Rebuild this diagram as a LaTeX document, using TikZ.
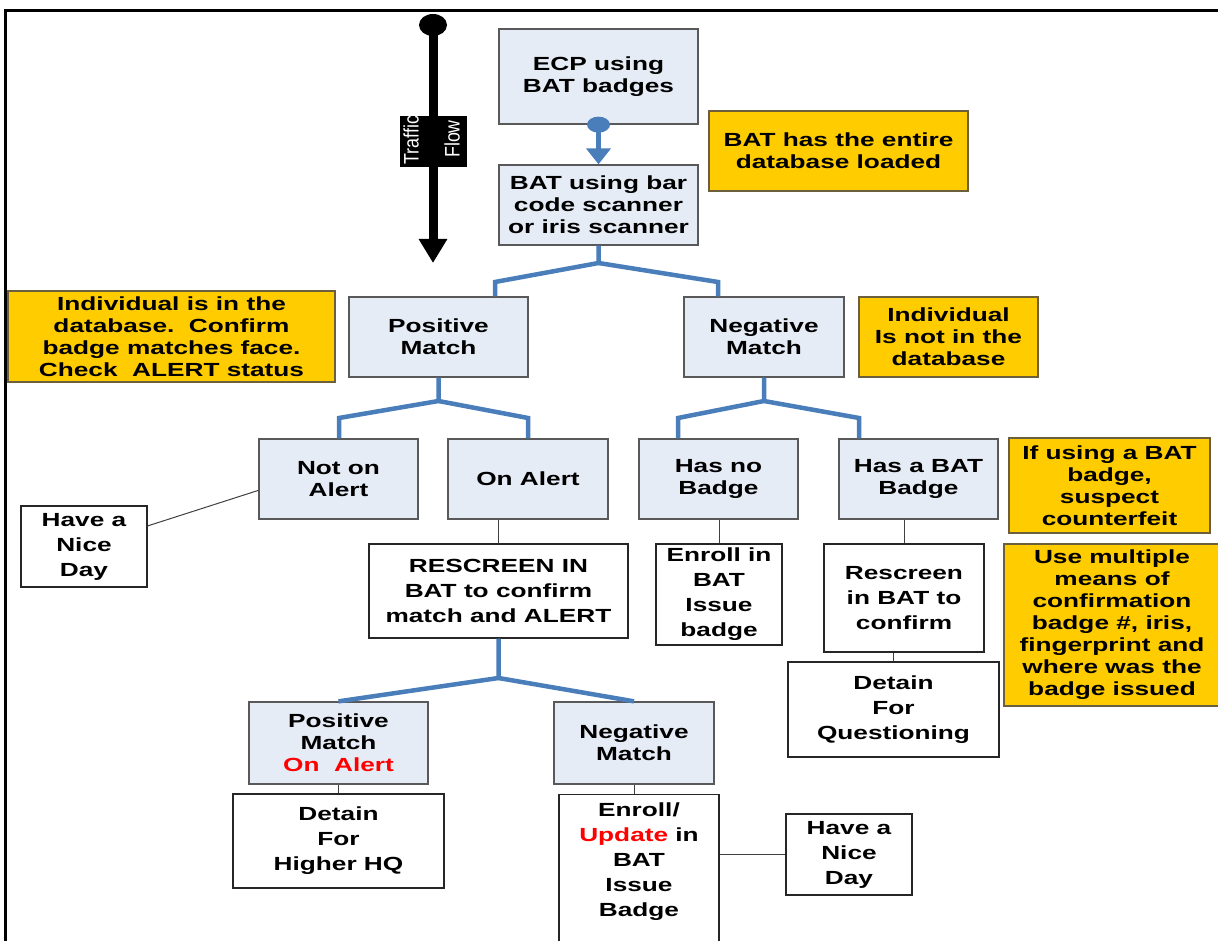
\documentclass[tikz,border=0pt]{standalone}
\usepackage{fontspec}
\usetikzlibrary{arrows.meta,calc}
\newfontfamily\wf[FakeStretch=1.38]{Liberation Sans}
\newfontfamily\tff[FakeStretch=0.85]{Liberation Sans}
\definecolor{lblue}{RGB}{230,236,246}
\definecolor{boxgray}{RGB}{89,89,89}
\definecolor{yel}{RGB}{255,204,0}
\definecolor{yborder}{RGB}{110,95,60}
\definecolor{tblue}{RGB}{74,126,187}
\definecolor{alertred}{RGB}{255,0,0}
\tikzset{
  base/.style={align=center, inner sep=0pt, line width=1.3pt},
  lb/.style={base, draw=boxgray, fill=lblue, font=\wf\bfseries\fontsize{19}{22}\selectfont},
  wb/.style={base, draw=black!85, fill=white, font=\wf\bfseries\fontsize{19}{25}\selectfont},
  yb/.style={base, draw=yborder, fill=yel, font=\wf\bfseries\fontsize{19}{22}\selectfont},
  tree/.style={draw=tblue, line width=4.5pt},
  thinline/.style={draw=black!75, line width=1pt},
}
\begin{document}
\begin{tikzpicture}[x=1pt,y=-1pt]
\useasboundingbox (0,0) rectangle (1218,941);
% frame
\draw[line width=3pt] (5,941) -- (5,11) -- (1218,11);

% traffic flow arrow
\coordinate (tftop) at (433,25);
\coordinate (tfbot) at (433,263);
\fill (tftop) ellipse (14 and 11);
\draw[line width=9pt, -{Triangle[width=27pt,length=24pt]}] (tftop) -- (tfbot);
\node[fill=black, minimum width=67, minimum height=51, inner sep=0pt] (tfbox) at (433.5,141.5) {};
\node[rotate=90, text=white, font=\tff\fontsize{21}{22}\selectfont, inner sep=0pt] (tftxt1) at (411,140) {Traffic};
\node[rotate=90, text=white, font=\tff\fontsize{21}{22}\selectfont, inner sep=0pt] (tftxt2) at (452,139) {Flow};

% boxes
\node[lb, minimum width=199, minimum height=95] (ecp) at (598.5,76.5) {ECP using\\BAT badges};
\node[lb, minimum width=199, minimum height=80] (bat) at (598.5,205) {BAT using bar\\code scanner\\or iris scanner};
\node[yb, minimum width=259, minimum height=80] (ydb) at (838.5,151) {BAT has the entire\\database loaded};
\node[yb, minimum width=327, minimum height=91] (yin) at (171.5,336.5) {Individual is in the\\database.\ \ Confirm\\badge matches face.\\Check\ \ ALERT status};
\node[lb, minimum width=179, minimum height=80] (pm) at (438.5,337) {Positive\\Match};
\node[lb, minimum width=160, minimum height=80] (nm) at (764,337) {Negative\\Match};
\node[yb, minimum width=179, minimum height=80] (ynot) at (948.5,337) {Individual\\Is not in the\\database};
\node[lb, minimum width=159, minimum height=80] (noa) at (338.5,479) {Not on\\Alert};
\node[lb, minimum width=160, minimum height=80] (ona) at (528,479) {On Alert};
\node[lb, minimum width=159, minimum height=80] (hnb) at (718.5,479) {Has no\\Badge};
\node[lb, minimum width=159, minimum height=80] (hbb) at (918.5,479) {Has a BAT\\Badge};
\node[yb, minimum width=201, minimum height=95] (yif) at (1109.5,485.5) {If using a BAT\\badge,\\suspect\\counterfeit};
\node[wb, minimum width=126, minimum height=81] (nice1) at (84,546.5) {Have a\\Nice\\Day};
\node[wb, minimum width=259, minimum height=94] (resc) at (498.5,591) {RESCREEN IN\\BAT to confirm\\match and ALERT};
\node[wb, minimum width=126, minimum height=101] (enr) at (719,594.5) {Enroll in\\BAT\\Issue\\badge};
\node[wb, minimum width=160, minimum height=108] (rescb) at (904,598) {Rescreen\\in BAT to\\confirm};
\node[wb, minimum width=211, minimum height=95] (detq) at (893.5,709.5) {Detain\\For\\Questioning};
\node[yb, minimum width=216, minimum height=162] (yuse) at (1112,625) {Use multiple\\means of\\confirmation\\badge \#, iris,\\fingerprint and\\where was the\\badge issued};
\node[lb, minimum width=179, minimum height=82] (pmoa) at (338.5,743) {Positive\\Match\\\textcolor{alertred}{On\ \ Alert}};
\node[lb, minimum width=160, minimum height=82] (nm2) at (634,743) {Negative\\Match};
\node[wb, minimum width=211, minimum height=94] (dhq) at (338.5,841) {Detain\\For\\Higher HQ};
\node[wb, minimum width=160, minimum height=160, anchor=north] (eu) at (639,794) {};
\node[align=center, inner sep=0pt, font=\wf\bfseries\fontsize{19}{25}\selectfont] (eut) at (639,862) {Enroll/\\\textcolor{alertred}{Update} in\\BAT\\Issue\\Badge};
\node[wb, minimum width=126, minimum height=81] (nice2) at (849,854.5) {Have a\\Nice\\Day};

% ECP -> BAT connector
\fill[tblue] (ecp.south) ellipse (11.5 and 8);
\draw[tblue, line width=5pt, -{Triangle[width=24pt,length=16pt]}] (ecp.south) -- (bat.north);

% tree connectors
\coordinate (t1) at (598.5,263);
\coordinate (t1l) at (495,282);
\coordinate (t1r) at (718,282);
\draw[tree] (bat.south) -- (t1) -- (t1l) -- (t1l |- pm.north);
\draw[tree] (t1) -- (t1r) -- (t1r |- nm.north);

\coordinate (t2) at (438.5,401);
\coordinate (t2l) at (339,418);
\coordinate (t2r) at (528,418);
\draw[tree] (pm.south) -- (t2) -- (t2l) -- (t2l |- noa.north);
\draw[tree] (t2) -- (t2r) -- (t2r |- ona.north);

\coordinate (t3) at (764,401);
\coordinate (t3l) at (678,418);
\coordinate (t3r) at (859,418);
\draw[tree] (nm.south) -- (t3) -- (t3l) -- (t3l |- hnb.north);
\draw[tree] (t3) -- (t3r) -- (t3r |- hbb.north);

\coordinate (t4) at (498.5,678);
\draw[tree] (resc.south) -- (t4) -- (pmoa.north);
\draw[tree] (t4) -- (nm2.north);

% thin connectors
\draw[thinline] ($(nice1.north east)!0.25!(nice1.south east)$) -- ($(noa.north west)!0.64!(noa.south west)$);
\draw[thinline] (resc.north) -- (resc.north |- ona.south);
\draw[thinline] (enr.north) -- (enr.north |- hnb.south);
\draw[thinline] (rescb.north) -- (rescb.north |- hbb.south);
\draw[thinline] (detq.north) -- (detq.north |- rescb.south);
\draw[thinline] (pmoa.south) -- (dhq.north);
\draw[thinline] (nm2.south) -- (nm2.south |- eu.north);
\draw[thinline] (nice2.west) -- (nice2.west -| eu.east);
\end{tikzpicture}
\end{document}
